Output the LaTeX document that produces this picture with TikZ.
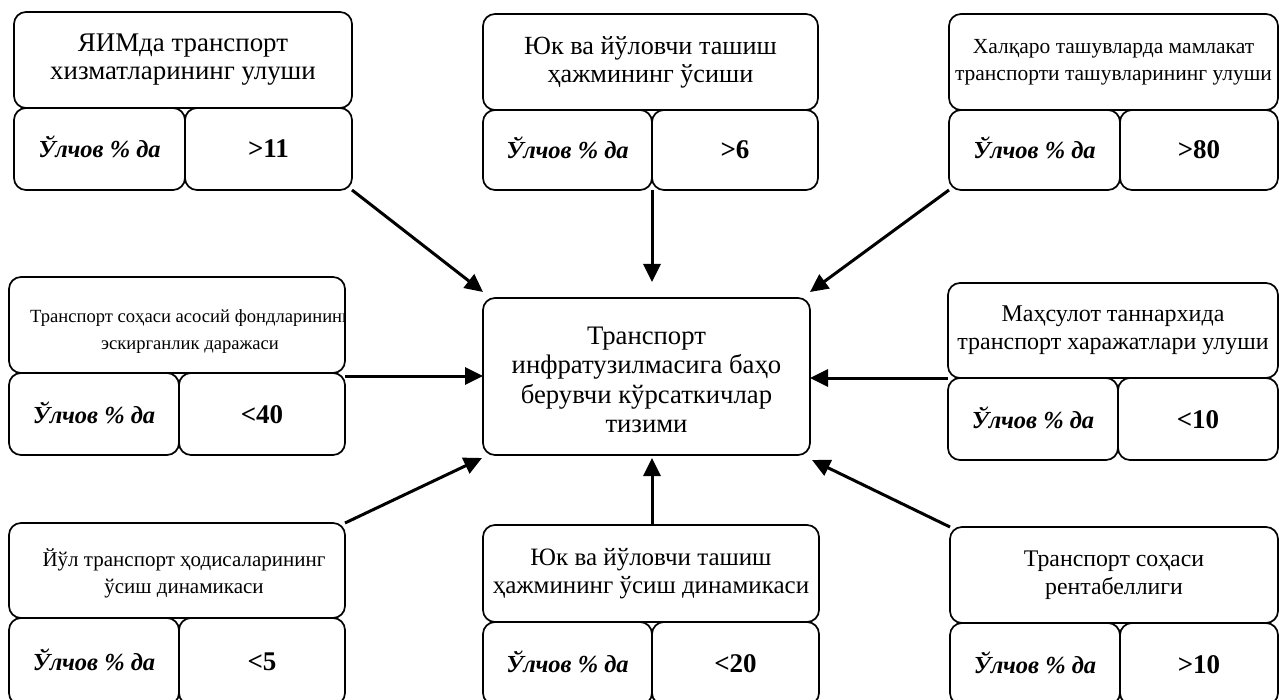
\documentclass[tikz,border=0pt]{standalone}
\usepackage{fontspec}
\setmainfont{Liberation Serif}
\usetikzlibrary{arrows.meta}
\begin{document}
\begin{tikzpicture}[x=1pt,y=-1pt,
  box/.style={draw,line width=1.7pt,rounded corners=12pt,inner sep=0pt,outer sep=0pt,align=center},
  ttl/.style={box,font=\fontsize{26}{28}\selectfont},
  unit/.style={box,font=\fontsize{24.5}{26}\selectfont\bfseries\itshape,text height=20pt,text depth=2pt},
  val/.style={box,font=\fontsize{27}{28}\selectfont\bfseries,text height=20pt,text depth=2pt},
  arr/.style={line width=3pt,-{Triangle[length=18pt,width=17pt]}}]
\clip (0,0) rectangle (1279,700);
% centre
\node[box,minimum width=327pt,minimum height=157pt] (ctr) at (646.5,376.5) {};
\node[align=center,inner sep=0pt,font=\fontsize{26.7}{29.5}\selectfont] (ctrx) at (646.5,380)
  {Транспорт\\инфратузилмасига баҳо\\берувчи кўрсаткичлар\\тизими};
% G1
\node[ttl,font=\fontsize{26.9}{28}\selectfont,minimum width=338pt,minimum height=96pt] (g1t) at (183,60) {ЯИМда транспорт\\хизматларининг улуши};
\node[unit,minimum width=171pt,minimum height=82pt] (g1u) at (99.5,149) {Ўлчов \% да};
\node[val,minimum width=167pt,minimum height=82pt] (g1v) at (268.5,149) {>11};
% G2
\node[ttl,font=\fontsize{26.2}{28}\selectfont,minimum width=335pt,minimum height=96pt] (g2t) at (650.5,62) {Юк ва йўловчи ташиш\\ҳажмининг ўсиши};
\node[unit,minimum width=169pt,minimum height=80pt] (g2u) at (567.5,150) {Ўлчов \% да};
\node[val,minimum width=166pt,minimum height=80pt] (g2v) at (735,150) {>6};
% G3
\node[ttl,font=\fontsize{21.5}{27}\selectfont,minimum width=329pt,minimum height=96pt] (g3t) at (1113.5,62) {Халқаро ташувларда мамлакат\\транспорти ташувларининг улуши};
\node[unit,minimum width=171pt,minimum height=80pt] (g3u) at (1034.5,150) {Ўлчов \% да};
\node[val,minimum width=158pt,minimum height=80pt] (g3v) at (1199,150) {>80};
% G4
\node[box,minimum width=336pt,minimum height=96pt] (g4t) at (177,325) {};
\begin{scope}
  \clip[rounded corners=12pt] (g4t.north west) rectangle (g4t.south east);
  \node[align=center,font=\fontsize{18.6}{27}\selectfont,inner sep=0pt] (g4x) at (190,332)
    {Транспорт соҳаси асосий фондларининг\\эскирганлик даражаси};
\end{scope}
\node[unit,minimum width=170pt,minimum height=82pt] (g4u) at (94,414) {Ўлчов \% да};
\node[val,minimum width=166pt,minimum height=82pt] (g4v) at (262,414) {<40};
% G6
\node[ttl,font=\fontsize{24}{28}\selectfont,minimum width=330pt,minimum height=95pt] (g6t) at (1113,330.5) {Маҳсулот таннархида\\транспорт харажатлари улуши};
\node[unit,minimum width=170pt,minimum height=82pt] (g6u) at (1033,419) {Ўлчов \% да};
\node[val,minimum width=160pt,minimum height=82pt] (g6v) at (1198,419) {<10};
% G7
\node[ttl,minimum width=336pt,minimum height=95pt] (g7t) at (177,570.5) {};
\node[align=center,font=\fontsize{21}{27}\selectfont,inner sep=0pt] (g7x) at (184,573) {Йўл транспорт ҳодисаларининг\\ўсиш динамикаси};
\node[unit,minimum width=170pt,minimum height=87pt] (g7u) at (94,661.5) {Ўлчов \% да};
\node[val,minimum width=166pt,minimum height=87pt] (g7v) at (262,661.5) {<5};
% G8
\node[ttl,font=\fontsize{25}{28}\selectfont,minimum width=336pt,minimum height=97pt] (g8t) at (651,573.5) {Юк ва йўловчи ташиш\\ҳажмининг ўсиш динамикаси};
\node[unit,minimum width=169pt,minimum height=83pt] (g8u) at (567.5,663.5) {Ўлчов \% да};
\node[val,minimum width=167pt,minimum height=83pt] (g8v) at (735.5,663.5) {<20};
% G9
\node[ttl,font=\fontsize{23.8}{28}\selectfont,minimum width=328pt,minimum height=96pt] (g9t) at (1114,575) {Транспорт соҳаси\\рентабеллиги};
\node[unit,minimum width=170pt,minimum height=82pt] (g9u) at (1035,664) {Ўлчов \% да};
\node[val,minimum width=158pt,minimum height=82pt] (g9v) at (1199,664) {>10};
% arrow ends
\coordinate (e1) at (483,292);
\coordinate (e2) at (652,282);
\coordinate (e3) at (810,292);
\coordinate (e4) at (483,376);
\coordinate (e6) at (810,378);
\coordinate (e7) at (482,458);
\coordinate (e8) at (652,458);
\coordinate (e9) at (812,460);
\coordinate (s2) at (652,190);
\coordinate (s4) at (345,376);
\coordinate (s6) at (948,378);
\coordinate (s8) at (652,525);
\draw[arr] (g1v.south east) -- (e1);
\draw[arr] (s2) -- (e2);
\draw[arr] (g3u.south west) -- (e3);
\draw[arr] (s4) -- (e4);
\draw[arr] (s6) -- (e6);
\draw[arr] (g7t.north east) -- (e7);
\draw[arr] (s8) -- (e8);
\draw[arr] (g9t.north west) -- (e9);
\end{tikzpicture}
\end{document}
